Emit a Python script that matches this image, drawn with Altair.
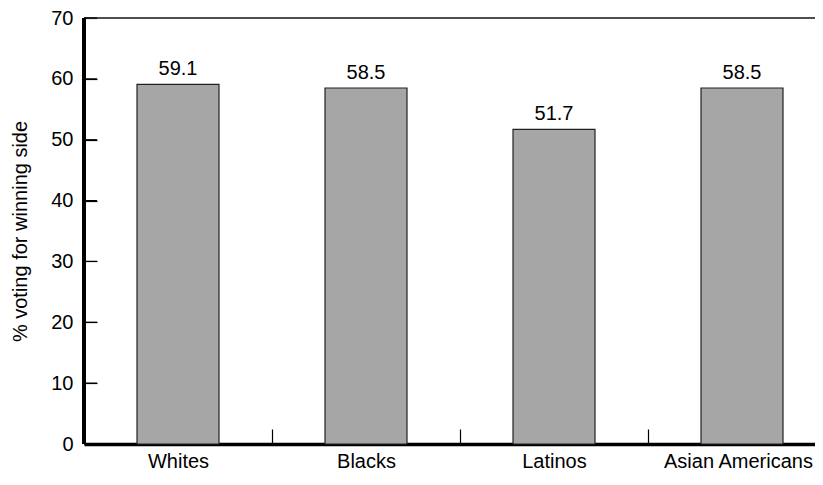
import altair as alt
import pandas as pd

groups = ["Whites", "Blacks", "Latinos", "Asian Americans"]
values = [59.1, 58.5, 51.7, 58.5]
y_ticks = [0, 10, 20, 30, 40, 50, 60, 70]

df = pd.DataFrame({"group": groups, "value": values, "idx": list(range(len(groups)))})
tick_df = pd.DataFrame({"tick": y_ticks})

W = 731
H = 426
STEP = 188
FONT = "Liberation Sans"
FS = 20
YTICK = 13

label_expr = "[" + ",".join("'" + g + "'" for g in groups) + "][datum.value]"
centers = list(range(len(groups)))
boundaries = [i + 0.5 for i in range(len(groups) - 1)]

x_lo = -0.5
xscale = alt.Scale(domain=[x_lo, x_lo + W / STEP], nice=False, zero=False, padding=0)
yscale = alt.Scale(domain=[0, 70], nice=False, padding=0)

base = alt.Chart(df)

bars = base.mark_bar(fill="#a6a6a6", stroke="#222222", strokeWidth=1.2, size=82).encode(
    x=alt.X("idx:Q", scale=xscale,
            axis=alt.Axis(title=None, ticks=False, values=centers, labelExpr=label_expr,
                          domainColor="black", domainWidth=3.5, orient="bottom",
                          labelFont=FONT, labelFontSize=FS, labelColor="black",
                          labelPadding=7, labelAngle=0, grid=False, labelFlush=False,
                          labelOverlap=False,
                          labelOffset={"condition": {"test": f"datum.value == {len(groups) - 1}",
                                                     "value": -4}, "value": 0})),
    y=alt.Y("value:Q", scale=yscale,
            axis=alt.Axis(title="% voting for winning side", values=y_ticks,
                          orient="left", ticks=False, domain=False, grid=False,
                          labelFont=FONT, labelFontSize=FS, labelColor="black",
                          labelPadding=11,
                          titleFont=FONT, titleFontSize=FS, titleFontWeight="normal",
                          titleColor="black", titleX=-64, titleBaseline="middle")),
)

labels = base.mark_text(baseline="bottom", dy=-5, font=FONT, fontSize=FS, color="black").encode(
    x=alt.X("idx:Q", scale=xscale,
            axis=alt.Axis(orient="bottom", offset=-15, values=boundaries, labels=False,
                          domain=False, title=None, tickSize=15, tickColor="black",
                          tickWidth=1.2, grid=False)),
    y=alt.Y("value:Q", scale=yscale,
            axis=alt.Axis(orient="right", offset=-W, values=y_ticks, labels=False,
                          domain=False, title=None, tickSize=YTICK, tickColor="black",
                          tickWidth=1.2, grid=False)),
    text=alt.Text("value:Q", format=".1f"),
)

top_line = alt.Chart(df).mark_rule(color="#444444", strokeWidth=1.2).encode(
    y=alt.Y(datum=70, scale=yscale, axis=None),
    x=alt.value(0),
    x2=alt.value("width"),
)

left_line = alt.Chart(df).mark_rule(color="black", strokeWidth=3.5).encode(
    y=alt.Y(datum=0, scale=yscale, axis=None),
    y2=alt.Y2(datum=70),
    x=alt.value(0),
)

y_inner_ticks = alt.Chart(tick_df).mark_rule(color="black", strokeWidth=1.2).encode(
    y=alt.Y("tick:Q", scale=yscale, axis=None),
    x=alt.X(datum=x_lo, scale=xscale, axis=None),
    x2=alt.X2(datum=x_lo + YTICK / STEP),
)

chart = alt.layer(bars, labels, top_line, left_line, y_inner_ticks).resolve_axis(
    x="independent", y="independent"
).properties(
    width=W, height=H,
    autosize=alt.AutoSizeParams(type="none"),
    padding={"left": 76, "top": 10, "right": 0, "bottom": 28},
).configure_view(stroke=None).configure(background="white")

chart.save("out.html", embed_options={"renderer": "svg", "actions": False})
